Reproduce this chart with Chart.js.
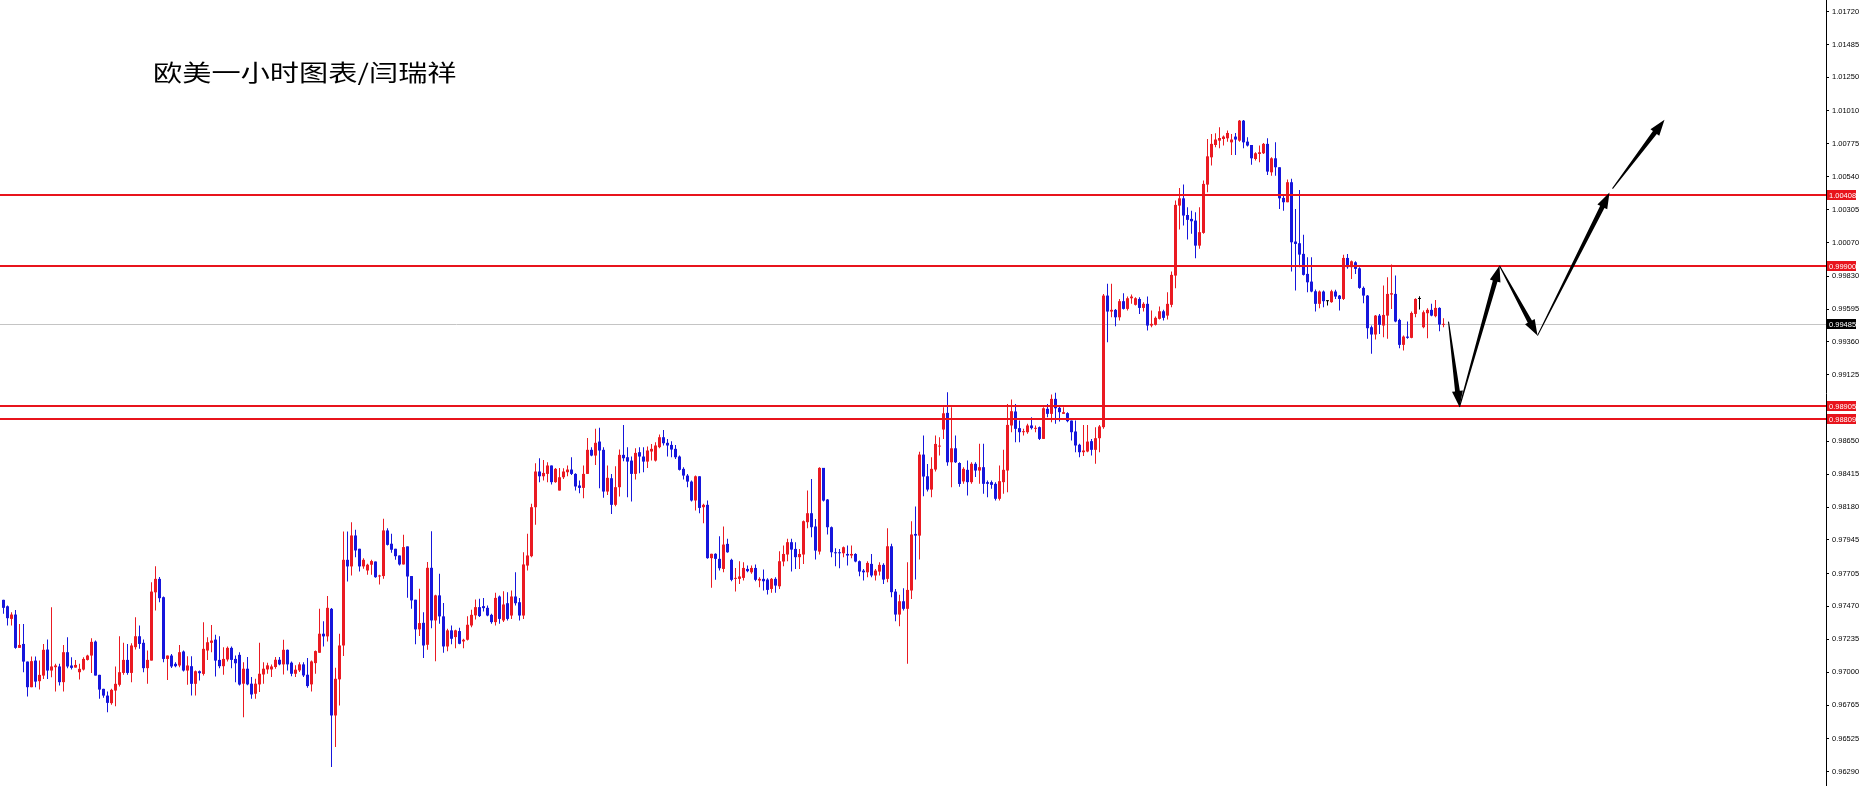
<!DOCTYPE html>
<html>
<head>
<meta charset="utf-8">
<script src="https://cdn.jsdelivr.net/npm/chart.js@4.4.0/dist/chart.umd.min.js"></script>
<style>
  html, body { margin: 0; padding: 0; background: #fff; }
  #wrap { position: relative; width: 1866px; height: 786px; overflow: hidden; }
  #title {
    position: absolute; left: 153px; top: 60px;
    font-family: "Noto Sans CJK SC", sans-serif; font-size: 23px; line-height: 23px;
    color: #000; white-space: nowrap;
    transform: scaleX(1.27); transform-origin: 0 0;
  }
</style>
</head>
<body>
<div id="wrap">
  <canvas id="chart" width="1866" height="786"></canvas>
  <div id="title">欧美一小时图表/闫瑞祥</div>
</div>
<script>
// EURUSD H1 candles (oldest first)
const openP = [
  0.97517, 0.97471, 0.97381, 0.97412, 0.97174, 0.97202, 0.97076, 0.96893, 0.97083, 0.96936,
  0.96976, 0.97162, 0.97012, 0.97036, 0.97041, 0.96929, 0.97143, 0.97048, 0.97033, 0.97000,
  0.97019, 0.97088, 0.97119, 0.97219, 0.96981, 0.96881, 0.96833, 0.96779, 0.96869, 0.96910,
  0.96995, 0.97088, 0.96995, 0.97179, 0.97257, 0.97210, 0.97029, 0.97083, 0.97571, 0.97667,
  0.97536, 0.97095, 0.97119, 0.97060, 0.97048, 0.97148, 0.97012, 0.97043, 0.96917, 0.97007,
  0.96988, 0.97155, 0.97210, 0.97233, 0.97088, 0.97043, 0.97091, 0.97174, 0.97095, 0.97124,
  0.96918, 0.97025, 0.96918, 0.96846, 0.96913, 0.96984, 0.97020, 0.97020, 0.97037, 0.97089,
  0.97056, 0.97160, 0.97068, 0.96989, 0.97013, 0.97056, 0.96982, 0.96913, 0.97065, 0.97139,
  0.97275, 0.97256, 0.97453, 0.96691, 0.96949, 0.97191, 0.97803, 0.97756, 0.97977, 0.97882,
  0.97756, 0.97727, 0.97768, 0.97791, 0.97684, 0.97687, 0.98013, 0.97918, 0.97882, 0.97834,
  0.97770, 0.97899, 0.97687, 0.97518, 0.97306, 0.97353, 0.97196, 0.97746, 0.97370, 0.97549,
  0.97399, 0.97184, 0.97299, 0.97251, 0.97294, 0.97220, 0.97232, 0.97334, 0.97406, 0.97465,
  0.97472, 0.97460, 0.97410, 0.97358, 0.97541, 0.97370, 0.97493, 0.97405, 0.97541, 0.97500,
  0.97405, 0.97762, 0.97829, 0.98179, 0.98434, 0.98400, 0.98417, 0.98477, 0.98358, 0.98298,
  0.98393, 0.98429, 0.98448, 0.98417, 0.98334, 0.98317, 0.98417, 0.98589, 0.98548, 0.98648,
  0.98589, 0.98291, 0.98386, 0.98196, 0.98322, 0.98553, 0.98536, 0.98512, 0.98417, 0.98572,
  0.98541, 0.98505, 0.98577, 0.98512, 0.98608, 0.98679, 0.98639, 0.98624, 0.98596, 0.98541,
  0.98453, 0.98405, 0.98362, 0.98227, 0.98400, 0.98179, 0.98196, 0.97815, 0.97846, 0.97810,
  0.97738, 0.97917, 0.97803, 0.97667, 0.97667, 0.97674, 0.97738, 0.97714, 0.97745, 0.97655,
  0.97667, 0.97662, 0.97595, 0.97667, 0.97614, 0.97791, 0.97841, 0.97929, 0.97881, 0.97822,
  0.97841, 0.98072, 0.98136, 0.98041, 0.97862, 0.98460, 0.98234, 0.98036, 0.97857, 0.97857,
  0.97850, 0.97845, 0.97834, 0.97845, 0.97793, 0.97726, 0.97714, 0.97774, 0.97691, 0.97719,
  0.97767, 0.97667, 0.97900, 0.97576, 0.97412, 0.97507, 0.97453, 0.97584, 0.97988, 0.97976,
  0.98555, 0.98400, 0.98305, 0.98448, 0.98612, 0.98734, 0.98853, 0.98500, 0.98600, 0.98495,
  0.98363, 0.98446, 0.98358, 0.98489, 0.98441, 0.98465, 0.98358, 0.98358, 0.98346, 0.98239,
  0.98358, 0.98441, 0.98763, 0.98863, 0.98744, 0.98715, 0.98715, 0.98763, 0.98739, 0.98751,
  0.98667, 0.98882, 0.98846, 0.98953, 0.98889, 0.98846, 0.98851, 0.98798, 0.98720, 0.98625,
  0.98572, 0.98577, 0.98651, 0.98589, 0.98672, 0.98751, 0.99691, 0.99577, 0.99589, 0.99536,
  0.99651, 0.99596, 0.99672, 0.99625, 0.99667, 0.99603, 0.99632, 0.99477, 0.99482, 0.99525,
  0.99579, 0.99548, 0.99625, 0.99834, 1.00334, 1.00386, 1.00267, 1.00239, 1.00227, 1.00048,
  1.00139, 1.00484, 1.00679, 1.00767, 1.00798, 1.00810, 1.00815, 1.00786, 1.00827, 1.00798,
  1.00941, 1.00791, 1.00767, 1.00667, 1.00703, 1.00708, 1.00775, 1.00572, 1.00672, 1.00608,
  1.00389, 1.00358, 1.00501, 1.00077, 1.00065, 0.99989, 0.99846, 0.99791, 0.99722, 0.99632,
  0.99720, 0.99651, 0.99644, 0.99720, 0.99691, 0.99667, 0.99960, 0.99894, 0.99929, 0.99886,
  0.99746, 0.99691, 0.99465, 0.99413, 0.99548, 0.99477, 0.99548, 0.99698, 0.99703, 0.99517,
  0.99339, 0.99398, 0.99389, 0.99560, 0.99667, 0.99465, 0.99565, 0.99589, 0.99544, 0.99603,
  0.99482
];
const highP = [
  0.97517, 0.97476, 0.97429, 0.97445, 0.97345, 0.97345, 0.97076, 0.97112, 0.97112, 0.97083,
  0.97202, 0.97233, 0.97464, 0.97060, 0.97060, 0.97195, 0.97250, 0.97107, 0.97088, 0.97060,
  0.97107, 0.97124, 0.97243, 0.97226, 0.96981, 0.96881, 0.96862, 0.96881, 0.97041, 0.97257,
  0.97210, 0.97202, 0.97207, 0.97393, 0.97333, 0.97233, 0.97155, 0.97643, 0.97757, 0.97681,
  0.97541, 0.97119, 0.97131, 0.97071, 0.97195, 0.97155, 0.97114, 0.97114, 0.97012, 0.97012,
  0.97357, 0.97250, 0.97338, 0.97267, 0.97257, 0.97179, 0.97183, 0.97183, 0.97119, 0.97143,
  0.97072, 0.97108, 0.96965, 0.96953, 0.97210, 0.97072, 0.97068, 0.97056, 0.97108, 0.97108,
  0.97232, 0.97163, 0.97077, 0.97049, 0.97072, 0.97072, 0.97101, 0.97084, 0.97156, 0.97453,
  0.97365, 0.97544, 0.97458, 0.97032, 0.97275, 0.98006, 0.98006, 0.98072, 0.98018, 0.97882,
  0.97815, 0.97775, 0.97803, 0.97791, 0.97696, 0.98096, 0.98029, 0.97989, 0.97882, 0.97834,
  0.97982, 0.97899, 0.97687, 0.97518, 0.97596, 0.97429, 0.97787, 0.98008, 0.97553, 0.97703,
  0.97494, 0.97310, 0.97334, 0.97303, 0.97318, 0.97239, 0.97399, 0.97446, 0.97520, 0.97525,
  0.97531, 0.97477, 0.97417, 0.97567, 0.97548, 0.97579, 0.97572, 0.97584, 0.97715, 0.97531,
  0.97858, 0.97989, 0.98203, 0.98493, 0.98529, 0.98517, 0.98500, 0.98477, 0.98460, 0.98460,
  0.98458, 0.98477, 0.98536, 0.98422, 0.98370, 0.98477, 0.98674, 0.98608, 0.98739, 0.98746,
  0.98608, 0.98477, 0.98417, 0.98472, 0.98591, 0.98767, 0.98608, 0.98541, 0.98600, 0.98608,
  0.98608, 0.98612, 0.98631, 0.98643, 0.98698, 0.98731, 0.98667, 0.98650, 0.98624, 0.98548,
  0.98465, 0.98417, 0.98370, 0.98405, 0.98400, 0.98203, 0.98227, 0.97846, 0.97850, 0.97972,
  0.98041, 0.97953, 0.97810, 0.97745, 0.97793, 0.97786, 0.97762, 0.97762, 0.97769, 0.97679,
  0.97734, 0.97672, 0.97674, 0.97679, 0.97864, 0.97905, 0.97953, 0.97953, 0.97929, 0.97881,
  0.98084, 0.98298, 0.98381, 0.98095, 0.98464, 0.98460, 0.98238, 0.98041, 0.97886, 0.97881,
  0.97898, 0.97905, 0.97905, 0.97850, 0.97798, 0.97738, 0.97793, 0.97845, 0.97738, 0.97786,
  0.97779, 0.98029, 0.97917, 0.97595, 0.97553, 0.97600, 0.97786, 0.98079, 0.98184, 0.98576,
  0.98691, 0.98488, 0.98536, 0.98691, 0.98679, 0.98893, 0.99000, 0.98893, 0.98691, 0.98500,
  0.98465, 0.98513, 0.98501, 0.98501, 0.98632, 0.98632, 0.98370, 0.98370, 0.98358, 0.98477,
  0.98589, 0.98917, 0.98948, 0.98917, 0.98798, 0.98739, 0.98775, 0.98822, 0.98763, 0.98756,
  0.98894, 0.98917, 0.98984, 0.98996, 0.98901, 0.98894, 0.98858, 0.98798, 0.98798, 0.98632,
  0.98767, 0.98767, 0.98667, 0.98751, 0.98767, 0.99703, 0.99775, 0.99775, 0.99596, 0.99667,
  0.99708, 0.99684, 0.99698, 0.99679, 0.99679, 0.99644, 0.99684, 0.99584, 0.99541, 0.99613,
  0.99589, 0.99715, 0.99863, 1.00370, 1.00460, 1.00484, 1.00322, 1.00298, 1.00286, 1.00322,
  1.00513, 1.00810, 1.00846, 1.00851, 1.00894, 1.00834, 1.00870, 1.00846, 1.00853, 1.00946,
  1.00946, 1.00822, 1.00767, 1.00715, 1.00763, 1.00782, 1.00815, 1.00679, 1.00786, 1.00608,
  1.00417, 1.00520, 1.00525, 1.00310, 1.00446, 1.00125, 0.99965, 0.99965, 0.99734, 0.99727,
  0.99727, 0.99656, 0.99732, 0.99732, 0.99696, 0.99982, 0.99989, 0.99941, 0.99936, 0.99894,
  0.99756, 0.99696, 0.99477, 0.99553, 0.99560, 0.99763, 0.99822, 0.99913, 0.99834, 0.99525,
  0.99406, 0.99506, 0.99577, 0.99672, 0.99686, 0.99584, 0.99601, 0.99632, 0.99660, 0.99608,
  0.99529
];
const lowP = [
  0.97417, 0.97333, 0.97333, 0.97167, 0.97174, 0.97000, 0.96826, 0.96893, 0.96893, 0.96876,
  0.96952, 0.96952, 0.96964, 0.96862, 0.96905, 0.96862, 0.97029, 0.97019, 0.97033, 0.96948,
  0.97012, 0.97083, 0.96995, 0.96976, 0.96810, 0.96817, 0.96714, 0.96767, 0.96757, 0.96898,
  0.96981, 0.96981, 0.96929, 0.97162, 0.97167, 0.97000, 0.96917, 0.97083, 0.97441, 0.97500,
  0.97071, 0.96945, 0.97031, 0.97036, 0.97036, 0.97005, 0.96910, 0.96833, 0.96833, 0.96941,
  0.96976, 0.97088, 0.97143, 0.96969, 0.97029, 0.96981, 0.97076, 0.97029, 0.96929, 0.96905,
  0.96679, 0.96906, 0.96810, 0.96810, 0.96858, 0.96918, 0.96989, 0.96965, 0.97025, 0.97049,
  0.96984, 0.97013, 0.96972, 0.96965, 0.97001, 0.96965, 0.96889, 0.96863, 0.96989, 0.97139,
  0.97184, 0.97220, 0.96322, 0.96465, 0.96763, 0.97115, 0.97649, 0.97691, 0.97822, 0.97720,
  0.97739, 0.97696, 0.97696, 0.97675, 0.97627, 0.97668, 0.97906, 0.97853, 0.97803, 0.97763,
  0.97770, 0.97532, 0.97453, 0.97199, 0.97258, 0.97101, 0.97160, 0.97315, 0.97079, 0.97346,
  0.97139, 0.97149, 0.97199, 0.97172, 0.97199, 0.97172, 0.97227, 0.97322, 0.97377, 0.97394,
  0.97434, 0.97400, 0.97346, 0.97334, 0.97346, 0.97358, 0.97370, 0.97381, 0.97477, 0.97370,
  0.97381, 0.97727, 0.97822, 0.98053, 0.98358, 0.98370, 0.98358, 0.98341, 0.98353, 0.98298,
  0.98381, 0.98400, 0.98410, 0.98298, 0.98279, 0.98243, 0.98417, 0.98543, 0.98481, 0.98315,
  0.98246, 0.98267, 0.98131, 0.98186, 0.98255, 0.98508, 0.98250, 0.98220, 0.98377, 0.98422,
  0.98429, 0.98460, 0.98512, 0.98505, 0.98600, 0.98620, 0.98541, 0.98536, 0.98524, 0.98441,
  0.98377, 0.98322, 0.98220, 0.98155, 0.98136, 0.98065, 0.97810, 0.97603, 0.97660, 0.97727,
  0.97714, 0.97853, 0.97650, 0.97576, 0.97631, 0.97655, 0.97714, 0.97703, 0.97650, 0.97607,
  0.97584, 0.97555, 0.97567, 0.97567, 0.97595, 0.97757, 0.97793, 0.97719, 0.97738, 0.97738,
  0.97774, 0.98029, 0.97964, 0.97805, 0.97841, 0.98219, 0.97984, 0.97822, 0.97757, 0.97743,
  0.97822, 0.97762, 0.97814, 0.97786, 0.97686, 0.97655, 0.97679, 0.97679, 0.97655, 0.97691,
  0.97631, 0.97643, 0.97536, 0.97364, 0.97329, 0.97441, 0.97060, 0.97524, 0.97662, 0.97805,
  0.98257, 0.98291, 0.98250, 0.98434, 0.98548, 0.98667, 0.98476, 0.98322, 0.98495, 0.98326,
  0.98346, 0.98263, 0.98346, 0.98394, 0.98346, 0.98275, 0.98251, 0.98310, 0.98227, 0.98227,
  0.98275, 0.98286, 0.98715, 0.98644, 0.98644, 0.98691, 0.98703, 0.98734, 0.98715, 0.98660,
  0.98667, 0.98822, 0.98786, 0.98775, 0.98791, 0.98846, 0.98786, 0.98656, 0.98572, 0.98536,
  0.98544, 0.98572, 0.98548, 0.98489, 0.98572, 0.98739, 0.99358, 0.99536, 0.99472, 0.99513,
  0.99591, 0.99584, 0.99632, 0.99620, 0.99560, 0.99577, 0.99441, 0.99465, 0.99477, 0.99520,
  0.99513, 0.99520, 0.99608, 0.99744, 1.00163, 1.00191, 1.00091, 1.00132, 0.99958, 1.00025,
  1.00132, 1.00429, 1.00620, 1.00751, 1.00744, 1.00763, 1.00791, 1.00696, 1.00696, 1.00791,
  1.00744, 1.00756, 1.00625, 1.00656, 1.00644, 1.00703, 1.00553, 1.00548, 1.00548, 1.00310,
  1.00298, 1.00358, 0.99863, 0.99727, 0.99894, 0.99834, 0.99715, 0.99715, 0.99577, 0.99601,
  0.99608, 0.99620, 0.99639, 0.99667, 0.99584, 0.99660, 0.99882, 0.99810, 0.99846, 0.99739,
  0.99636, 0.99382, 0.99275, 0.99377, 0.99417, 0.99394, 0.99382, 0.99596, 0.99501, 0.99315,
  0.99298, 0.99382, 0.99386, 0.99536, 0.99591, 0.99458, 0.99386, 0.99544, 0.99536, 0.99436,
  0.99465
];
const closeP = [
  0.97460, 0.97386, 0.97412, 0.97174, 0.97195, 0.97076, 0.96893, 0.97079, 0.96933, 0.96981,
  0.97160, 0.97012, 0.97041, 0.97048, 0.96929, 0.97143, 0.97041, 0.97031, 0.97052, 0.97024,
  0.97095, 0.97119, 0.97217, 0.96976, 0.96876, 0.96833, 0.96781, 0.96874, 0.96917, 0.97000,
  0.97088, 0.96995, 0.97191, 0.97257, 0.97202, 0.97029, 0.97088, 0.97576, 0.97667, 0.97529,
  0.97095, 0.97119, 0.97041, 0.97043, 0.97143, 0.97012, 0.97048, 0.96917, 0.97007, 0.96993,
  0.97167, 0.97214, 0.97226, 0.97083, 0.97043, 0.97095, 0.97174, 0.97088, 0.97064, 0.96912,
  0.97025, 0.96913, 0.96841, 0.96918, 0.96989, 0.97025, 0.97049, 0.97041, 0.97089, 0.97056,
  0.97160, 0.97056, 0.96989, 0.97018, 0.97056, 0.96977, 0.96901, 0.97077, 0.97151, 0.97275,
  0.97256, 0.97460, 0.96691, 0.96953, 0.97191, 0.97803, 0.97756, 0.97977, 0.97870, 0.97756,
  0.97803, 0.97768, 0.97794, 0.97679, 0.97691, 0.98013, 0.97910, 0.97875, 0.97829, 0.97770,
  0.97894, 0.97684, 0.97513, 0.97306, 0.97351, 0.97191, 0.97746, 0.97370, 0.97549, 0.97399,
  0.97184, 0.97299, 0.97239, 0.97299, 0.97203, 0.97232, 0.97339, 0.97410, 0.97465, 0.97401,
  0.97458, 0.97405, 0.97358, 0.97531, 0.97381, 0.97484, 0.97381, 0.97541, 0.97493, 0.97405,
  0.97770, 0.97834, 0.98179, 0.98434, 0.98400, 0.98424, 0.98477, 0.98358, 0.98453, 0.98393,
  0.98434, 0.98448, 0.98417, 0.98327, 0.98317, 0.98417, 0.98589, 0.98548, 0.98639, 0.98584,
  0.98291, 0.98389, 0.98196, 0.98322, 0.98553, 0.98529, 0.98505, 0.98417, 0.98567, 0.98541,
  0.98505, 0.98584, 0.98596, 0.98620, 0.98679, 0.98636, 0.98620, 0.98591, 0.98536, 0.98446,
  0.98405, 0.98362, 0.98227, 0.98400, 0.98174, 0.98196, 0.97815, 0.97846, 0.97810, 0.97743,
  0.97912, 0.97857, 0.97660, 0.97674, 0.97684, 0.97745, 0.97722, 0.97745, 0.97660, 0.97667,
  0.97650, 0.97588, 0.97667, 0.97619, 0.97793, 0.97845, 0.97929, 0.97876, 0.97822, 0.97845,
  0.98079, 0.98136, 0.98036, 0.97869, 0.98460, 0.98226, 0.98036, 0.97857, 0.97850, 0.97850,
  0.97893, 0.97834, 0.97845, 0.97791, 0.97719, 0.97714, 0.97781, 0.97691, 0.97726, 0.97767,
  0.97662, 0.97900, 0.97572, 0.97412, 0.97507, 0.97453, 0.97588, 0.97984, 0.97976, 0.98555,
  0.98398, 0.98305, 0.98453, 0.98631, 0.98619, 0.98850, 0.98500, 0.98600, 0.98500, 0.98345,
  0.98453, 0.98358, 0.98489, 0.98441, 0.98465, 0.98346, 0.98346, 0.98339, 0.98239, 0.98365,
  0.98446, 0.98767, 0.98865, 0.98739, 0.98715, 0.98722, 0.98763, 0.98744, 0.98746, 0.98667,
  0.98886, 0.98846, 0.98953, 0.98886, 0.98858, 0.98858, 0.98794, 0.98715, 0.98620, 0.98572,
  0.98584, 0.98648, 0.98589, 0.98672, 0.98756, 0.99691, 0.99577, 0.99589, 0.99536, 0.99651,
  0.99596, 0.99672, 0.99684, 0.99672, 0.99603, 0.99632, 0.99477, 0.99489, 0.99532, 0.99579,
  0.99532, 0.99632, 0.99839, 1.00339, 1.00386, 1.00263, 1.00232, 1.00222, 1.00048, 1.00144,
  1.00489, 1.00686, 1.00775, 1.00806, 1.00817, 1.00827, 1.00853, 1.00806, 1.00806, 1.00941,
  1.00786, 1.00763, 1.00672, 1.00708, 1.00715, 1.00775, 1.00577, 1.00672, 1.00608, 1.00386,
  1.00358, 1.00501, 1.00072, 1.00060, 0.99984, 0.99839, 0.99786, 0.99720, 0.99632, 0.99720,
  0.99651, 0.99651, 0.99722, 0.99684, 0.99667, 0.99960, 0.99894, 0.99936, 0.99882, 0.99746,
  0.99691, 0.99458, 0.99413, 0.99548, 0.99482, 0.99553, 0.99703, 0.99708, 0.99506, 0.99339,
  0.99398, 0.99389, 0.99567, 0.99667, 0.99667, 0.99572, 0.99589, 0.99548, 0.99603, 0.99484,
  0.99485
];

// price scale labels on the right
const tickValues = [
  1.01720, 1.01485, 1.01250, 1.01010, 1.00775, 1.00540, 1.00305, 1.00070,
  0.99830, 0.99595, 0.99360, 0.99125, 0.98650, 0.98415, 0.98180, 0.97945,
  0.97705, 0.97470, 0.97235, 0.97000, 0.96765, 0.96525, 0.96290
];

// horizontal levels (red) and the current bid (grey)
const levels = [1.00408, 0.99900, 0.98905, 0.98809];
const bidLevel = 0.99485;

// drawn projection arrows: [fromBar, fromPrice, toBar, toPrice]
const arrows = [
  [361.25, 0.99505, 364.0, 0.98895],
  [364.0, 0.98895, 374.0, 0.99905],
  [374.0, 0.99905, 383.5, 0.99405],
  [383.5, 0.99405, 401.5, 1.00427],
  [402.25, 1.00455, 415.25, 1.00948]
];

const RED = "#ea1a22";
const BLUE = "#1616dc";
const LINE_RED = "#e8141c";

const bars = openP.map((_, i) => i);
const colors = bars.map(i => closeP[i] > openP[i] ? RED : (closeP[i] < openP[i] ? BLUE : "#000"));

function drawArrow(ctx, x0, y0, x1, y1) {
  const dx = x1 - x0, dy = y1 - y0, len = Math.hypot(dx, dy);
  const ux = dx / len, uy = dy / len, nx = -uy, ny = ux;
  const hl = Math.min(16, len * 0.35), hw = 5.5, sw = 2.4, tw = 0.5;
  const bx = x1 - ux * hl, by = y1 - uy * hl;
  ctx.beginPath();
  ctx.moveTo(x0 + nx * tw, y0 + ny * tw);
  ctx.lineTo(bx + nx * sw, by + ny * sw);
  ctx.lineTo(bx + nx * hw, by + ny * hw);
  ctx.lineTo(x1, y1);
  ctx.lineTo(bx - nx * hw, by - ny * hw);
  ctx.lineTo(bx - nx * sw, by - ny * sw);
  ctx.lineTo(x0 - nx * tw, y0 - ny * tw);
  ctx.closePath();
  ctx.fill();
}

const overlays = {
  id: "overlays",
  beforeDatasetsDraw(chart) {
    const { ctx, chartArea: a, scales: { y } } = chart;
    const py = Math.round(y.getPixelForValue(bidLevel)) + 0.5;
    ctx.save();
    ctx.strokeStyle = "#c4c4c4";
    ctx.lineWidth = 1;
    ctx.beginPath();
    ctx.moveTo(a.left, py);
    ctx.lineTo(a.right, py);
    ctx.stroke();
    ctx.restore();
  },
  afterDatasetsDraw(chart) {
    const { ctx, chartArea: a, scales: { x, y } } = chart;
    ctx.save();
    ctx.strokeStyle = LINE_RED;
    ctx.lineWidth = 2;
    levels.forEach(v => {
      const py = Math.round(y.getPixelForValue(v));
      ctx.beginPath();
      ctx.moveTo(a.left, py);
      ctx.lineTo(a.right, py);
      ctx.stroke();
    });
    ctx.fillStyle = "#000";
    arrows.forEach(([b0, p0, b1, p1]) => {
      drawArrow(ctx, x.getPixelForValue(b0), y.getPixelForValue(p0),
                x.getPixelForValue(b1), y.getPixelForValue(p1));
    });
    ctx.restore();
  },
  afterDraw(chart) {
    const { ctx, chartArea: a, scales: { y } } = chart;
    ctx.save();
    ctx.font = '7.5px "Liberation Sans", Arial, sans-serif';
    ctx.textBaseline = "middle";
    const box = (v, fill) => {
      const py = Math.round(y.getPixelForValue(v));
      ctx.fillStyle = fill;
      ctx.fillRect(a.right + 1, py - 5, 29, 10);
      ctx.fillStyle = "#fff";
      ctx.fillText(v.toFixed(5), a.right + 3, py + 0.5);
    };
    levels.forEach(v => box(v, LINE_RED));
    box(bidLevel, "#000");
    ctx.restore();
  }
};

new Chart(document.getElementById("chart"), {
  type: "bar",
  data: {
    datasets: [
      {
        label: "body",
        data: bars.map(i => ({ x: i, y: [openP[i], closeP[i]] })),
        backgroundColor: colors,
        barThickness: 3,
        minBarLength: 1,
        grouped: false,
        borderWidth: 0,
        inflateAmount: 0,
        order: 1
      },
      {
        label: "wick",
        data: bars.map(i => ({ x: i, y: [lowP[i], highP[i]] })),
        backgroundColor: colors,
        barThickness: 1,
        grouped: false,
        borderWidth: 0,
        inflateAmount: 0,
        order: 2
      }
    ]
  },
  options: {
    responsive: false,
    animation: false,
    events: [],
    layout: { padding: 0 },
    plugins: { legend: { display: false }, tooltip: { enabled: false } },
    scales: {
      x: {
        type: "linear",
        min: -0.875,
        max: 455.625,
        offset: false,
        display: false
      },
      y: {
        type: "linear",
        position: "right",
        min: 0.96187,
        max: 1.01803,
        grid: { drawOnChartArea: false, drawTicks: true, tickLength: 3, color: "#000" },
        border: { display: true, color: "#000", width: 1 },
        ticks: {
          color: "#000",
          padding: 3,
          autoSkip: false,
          font: { family: "Liberation Sans", size: 7.5 },
          callback: v => Number(v).toFixed(5)
        },
        afterBuildTicks: s => { s.ticks = tickValues.map(v => ({ value: v })); },
        afterFit: s => { s.width = 40; s.paddingTop = 0; s.paddingBottom = 0; }
      }
    }
  },
  plugins: [overlays]
});
</script>
</body>
</html>
